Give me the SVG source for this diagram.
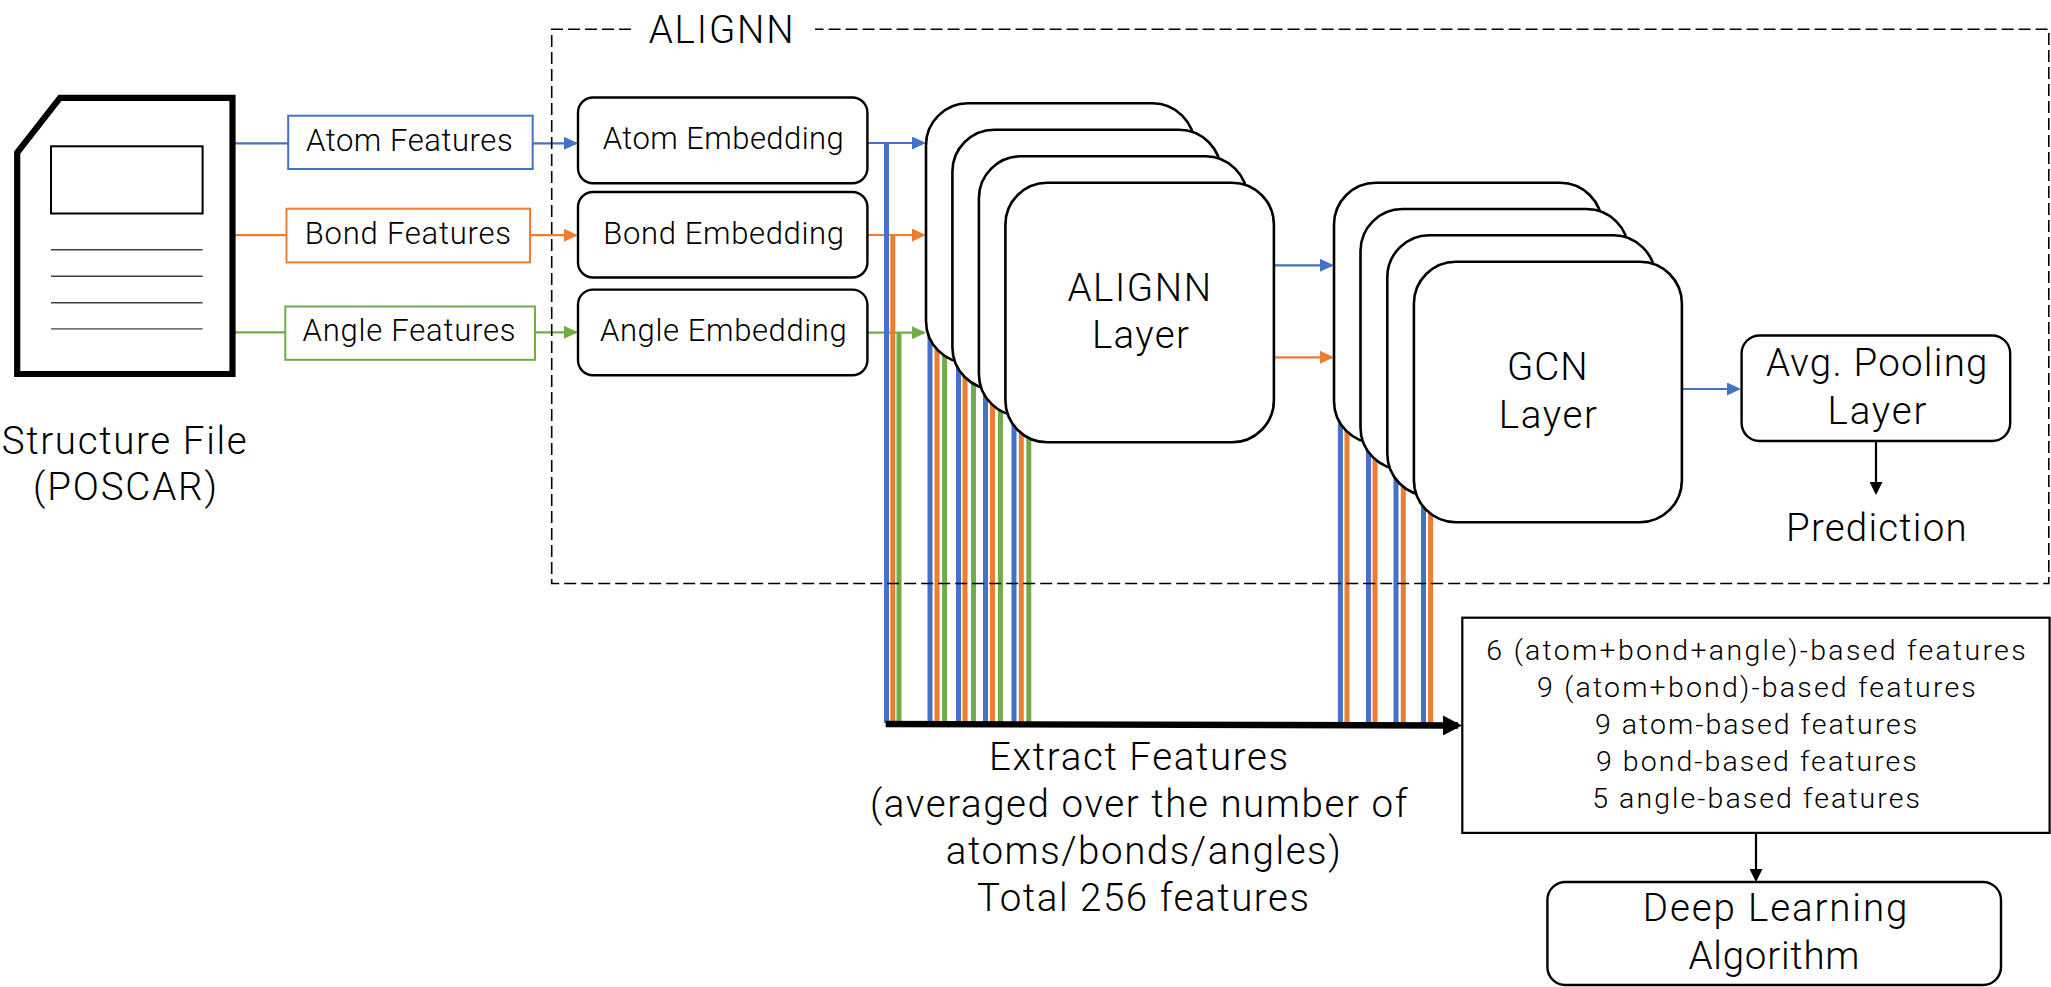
<svg xmlns="http://www.w3.org/2000/svg" width="2051" height="987" viewBox="0 0 2051 987">
<style>
text{font-family:"Roboto","Noto Sans",sans-serif;font-weight:300;fill:#000;text-anchor:start}
.t37{font-size:38.5px}.t30{font-size:31px}.t28{font-size:28.5px}
.box{fill:#fff;stroke:#000;stroke-width:2.4}
.stack{fill:#fff;stroke:#000;stroke-width:2.6}
.blue{stroke:#4472C4}.orange{stroke:#ED7D31}.green{stroke:#70AD47}
.fbox{fill:#fff;stroke-width:2}
.h{fill:none;stroke-width:2.2}
.v{fill:none;stroke-width:5}
.ln{stroke:#404040;stroke-width:1.4}
.dash{fill:none;stroke:#000;stroke-width:1.6;stroke-dasharray:12 5}
</style>
<defs>
<marker id="ab" markerUnits="userSpaceOnUse" markerWidth="14" markerHeight="13" refX="12" refY="6.5" orient="auto"><path d="M0,0L14,6.5L0,13z" fill="#4472C4"/></marker>
<marker id="ao" markerUnits="userSpaceOnUse" markerWidth="14" markerHeight="13" refX="12" refY="6.5" orient="auto"><path d="M0,0L14,6.5L0,13z" fill="#ED7D31"/></marker>
<marker id="ag" markerUnits="userSpaceOnUse" markerWidth="14" markerHeight="13" refX="12" refY="6.5" orient="auto"><path d="M0,0L14,6.5L0,13z" fill="#70AD47"/></marker>
<marker id="ak" markerUnits="userSpaceOnUse" markerWidth="13" markerHeight="13" refX="11" refY="6.5" orient="auto"><path d="M0,0L13,6.5L0,13z" fill="#000"/></marker>
<marker id="abig" markerUnits="userSpaceOnUse" markerWidth="19" markerHeight="20" refX="15" refY="10" orient="auto"><path d="M0,0L19,10L0,20z" fill="#000"/></marker>
</defs>
<g id="connectors">
<path class="h blue" d="M232.5 143.3H288"/>
<path class="h orange" d="M232.5 235.2H287"/>
<path class="h green" d="M232.5 332.3H285"/>
<path class="h blue" d="M532 143.3H576" marker-end="url(#ab)"/>
<path class="h orange" d="M530 235.2H576" marker-end="url(#ao)"/>
<path class="h green" d="M535 332.3H576" marker-end="url(#ag)"/>
<path class="h blue" d="M867 143H924" marker-end="url(#ab)"/>
<path class="h orange" d="M867 235H924" marker-end="url(#ao)"/>
<path class="h green" d="M867 332.7H924" marker-end="url(#ag)"/>
<path class="v blue" d="M886.5 143V723"/>
<path class="v orange" d="M892.8 235V723"/>
<path class="v green" d="M899 332.7V723"/>
<path class="v blue" d="M930 300V723M958.5 300V723M985.5 300V723M1014 300V723M1340.4 400V723M1368.5 400V723M1396 400V723M1423.5 400V723"/>
<path class="v orange" d="M937 300V723M965 300V723M992.5 300V723M1021.3 300V723M1347 400V723M1375 400V723M1403.3 400V723M1430.6 400V723"/>
<path class="v green" d="M944.6 300V723M973.5 300V723M1000.4 300V723M1028.8 300V723"/>
<path class="h blue" d="M1274 265.3H1332" marker-end="url(#ab)"/>
<path class="h orange" d="M1274 357.3H1332" marker-end="url(#ao)"/>
<path class="h blue" d="M1682 389H1739" marker-end="url(#ab)"/>
<path d="M1876 441V493" fill="none" stroke="#000" stroke-width="2.2" marker-end="url(#ak)"/>
<path d="M1756 833V880" fill="none" stroke="#000" stroke-width="2.2" marker-end="url(#ak)"/>
<path d="M885.7 724L1458 725.5" fill="none" stroke="#000" stroke-width="6.4" marker-end="url(#abig)"/>
</g>
<g id="alignn-frame">
<path class="dash" d="M631 29.3H551.7V583.5H2048.8V29.3H815"/>
<text class="t37" x="648.7" y="43" textLength="145">ALIGNN</text>
</g>
<g id="structure-file">
<path d="M60 97.8H232.5V374H17.2V152.5z" fill="#fff" stroke="#000" stroke-width="6.2"/>
<rect x="51" y="146.3" width="151.6" height="67.2" fill="#fff" stroke="#000" stroke-width="2"/>
<path class="ln" d="M51 249.7H202.6M51 276.2H202.6M51 302.7H202.6M51 328.9H202.6"/>
<text class="t37" x="1.7" y="453.5" textLength="245">Structure File</text>
<text class="t37" x="33" y="500" textLength="184">(POSCAR)</text>
</g>
<g id="atom-features"><rect class="fbox blue" x="288.2" y="115.7" width="244.5" height="53.3"/><text class="t30" x="306" y="150.5" textLength="206.6">Atom Features</text></g>
<g id="bond-features"><rect class="fbox orange" x="286.5" y="208.7" width="243.5" height="53.7"/><text class="t30" x="304.8" y="243.8" textLength="206.2">Bond Features</text></g>
<g id="angle-features"><rect class="fbox green" x="285.3" y="306.5" width="249.7" height="53.3"/><text class="t30" x="302.5" y="341" textLength="213">Angle Features</text></g>
<g id="atom-embedding"><rect class="box" x="578" y="97.5" width="289.4" height="85.7" rx="15"/><text class="t30" x="602.8" y="149" textLength="241">Atom Embedding</text></g>
<g id="bond-embedding"><rect class="box" x="578" y="192" width="289.4" height="85.5" rx="15"/><text class="t30" x="603.3" y="243.8" textLength="240.6">Bond Embedding</text></g>
<g id="angle-embedding"><rect class="box" x="578" y="289.6" width="289.4" height="85.7" rx="15"/><text class="t30" x="600" y="341" textLength="246.7">Angle Embedding</text></g>
<g id="alignn-layer">
<rect class="stack" x="926" y="103.3" width="268.5" height="259.6" rx="42"/>
<rect class="stack" x="952.4" y="129.7" width="268.5" height="259.6" rx="42"/>
<rect class="stack" x="978.9" y="156.3" width="268.5" height="259.6" rx="42"/>
<rect class="stack" x="1005.4" y="182.7" width="268.5" height="259.6" rx="42"/>
<text class="t37" x="1067.5" y="300.7" textLength="143.5">ALIGNN</text>
<text class="t37" x="1092" y="347.7" textLength="96.9">Layer</text>
</g>
<g id="gcn-layer">
<rect class="stack" x="1334" y="182.7" width="268" height="260.5" rx="42"/>
<rect class="stack" x="1360.5" y="209" width="268" height="260.5" rx="42"/>
<rect class="stack" x="1387.3" y="235.3" width="268" height="260.5" rx="42"/>
<rect class="stack" x="1413.9" y="261.7" width="268" height="260.5" rx="42"/>
<text class="t37" x="1507" y="380" textLength="80.6">GCN</text>
<text class="t37" x="1498.8" y="427.5" textLength="98.2">Layer</text>
</g>
<g id="pooling-layer"><rect class="box" x="1741.6" y="335.5" width="268.6" height="105.5" rx="18"/>
<text class="t37" x="1766" y="376.2" textLength="221.4">Avg. Pooling</text>
<text class="t37" x="1827.6" y="424" textLength="98.8">Layer</text></g>
<g id="prediction"><text class="t37" x="1786" y="541" textLength="180.6">Prediction</text></g>
<g id="extract-label">
<text class="t37" x="989" y="770" textLength="299">Extract Features</text>
<text class="t37" x="870" y="817" textLength="537.4">(averaged over the number of</text>
<text class="t37" x="945.7" y="864" textLength="395">atoms/bonds/angles)</text>
<text class="t37" x="977" y="911" textLength="332">Total 256 features</text>
</g>
<g id="feature-list"><rect x="1462.3" y="617.7" width="587.3" height="215.2" fill="#fff" stroke="#000" stroke-width="2.2"/>
<text class="t28" x="1486.3" y="660" textLength="539.3">6 (atom+bond+angle)-based features</text>
<text class="t28" x="1537" y="697" textLength="438.8">9 (atom+bond)-based features</text>
<text class="t28" x="1595" y="734" textLength="322.2">9 atom-based features</text>
<text class="t28" x="1596" y="771" textLength="320.8">9 bond-based features</text>
<text class="t28" x="1592.2" y="808" textLength="327.8">5 angle-based features</text></g>
<g id="deep-learning"><rect class="box" x="1547.4" y="882" width="453.6" height="103" rx="18"/>
<text class="t37" x="1642.8" y="921.4" textLength="264.5">Deep Learning</text>
<text class="t37" x="1688.5" y="969" textLength="171">Algorithm</text></g>
</svg>
